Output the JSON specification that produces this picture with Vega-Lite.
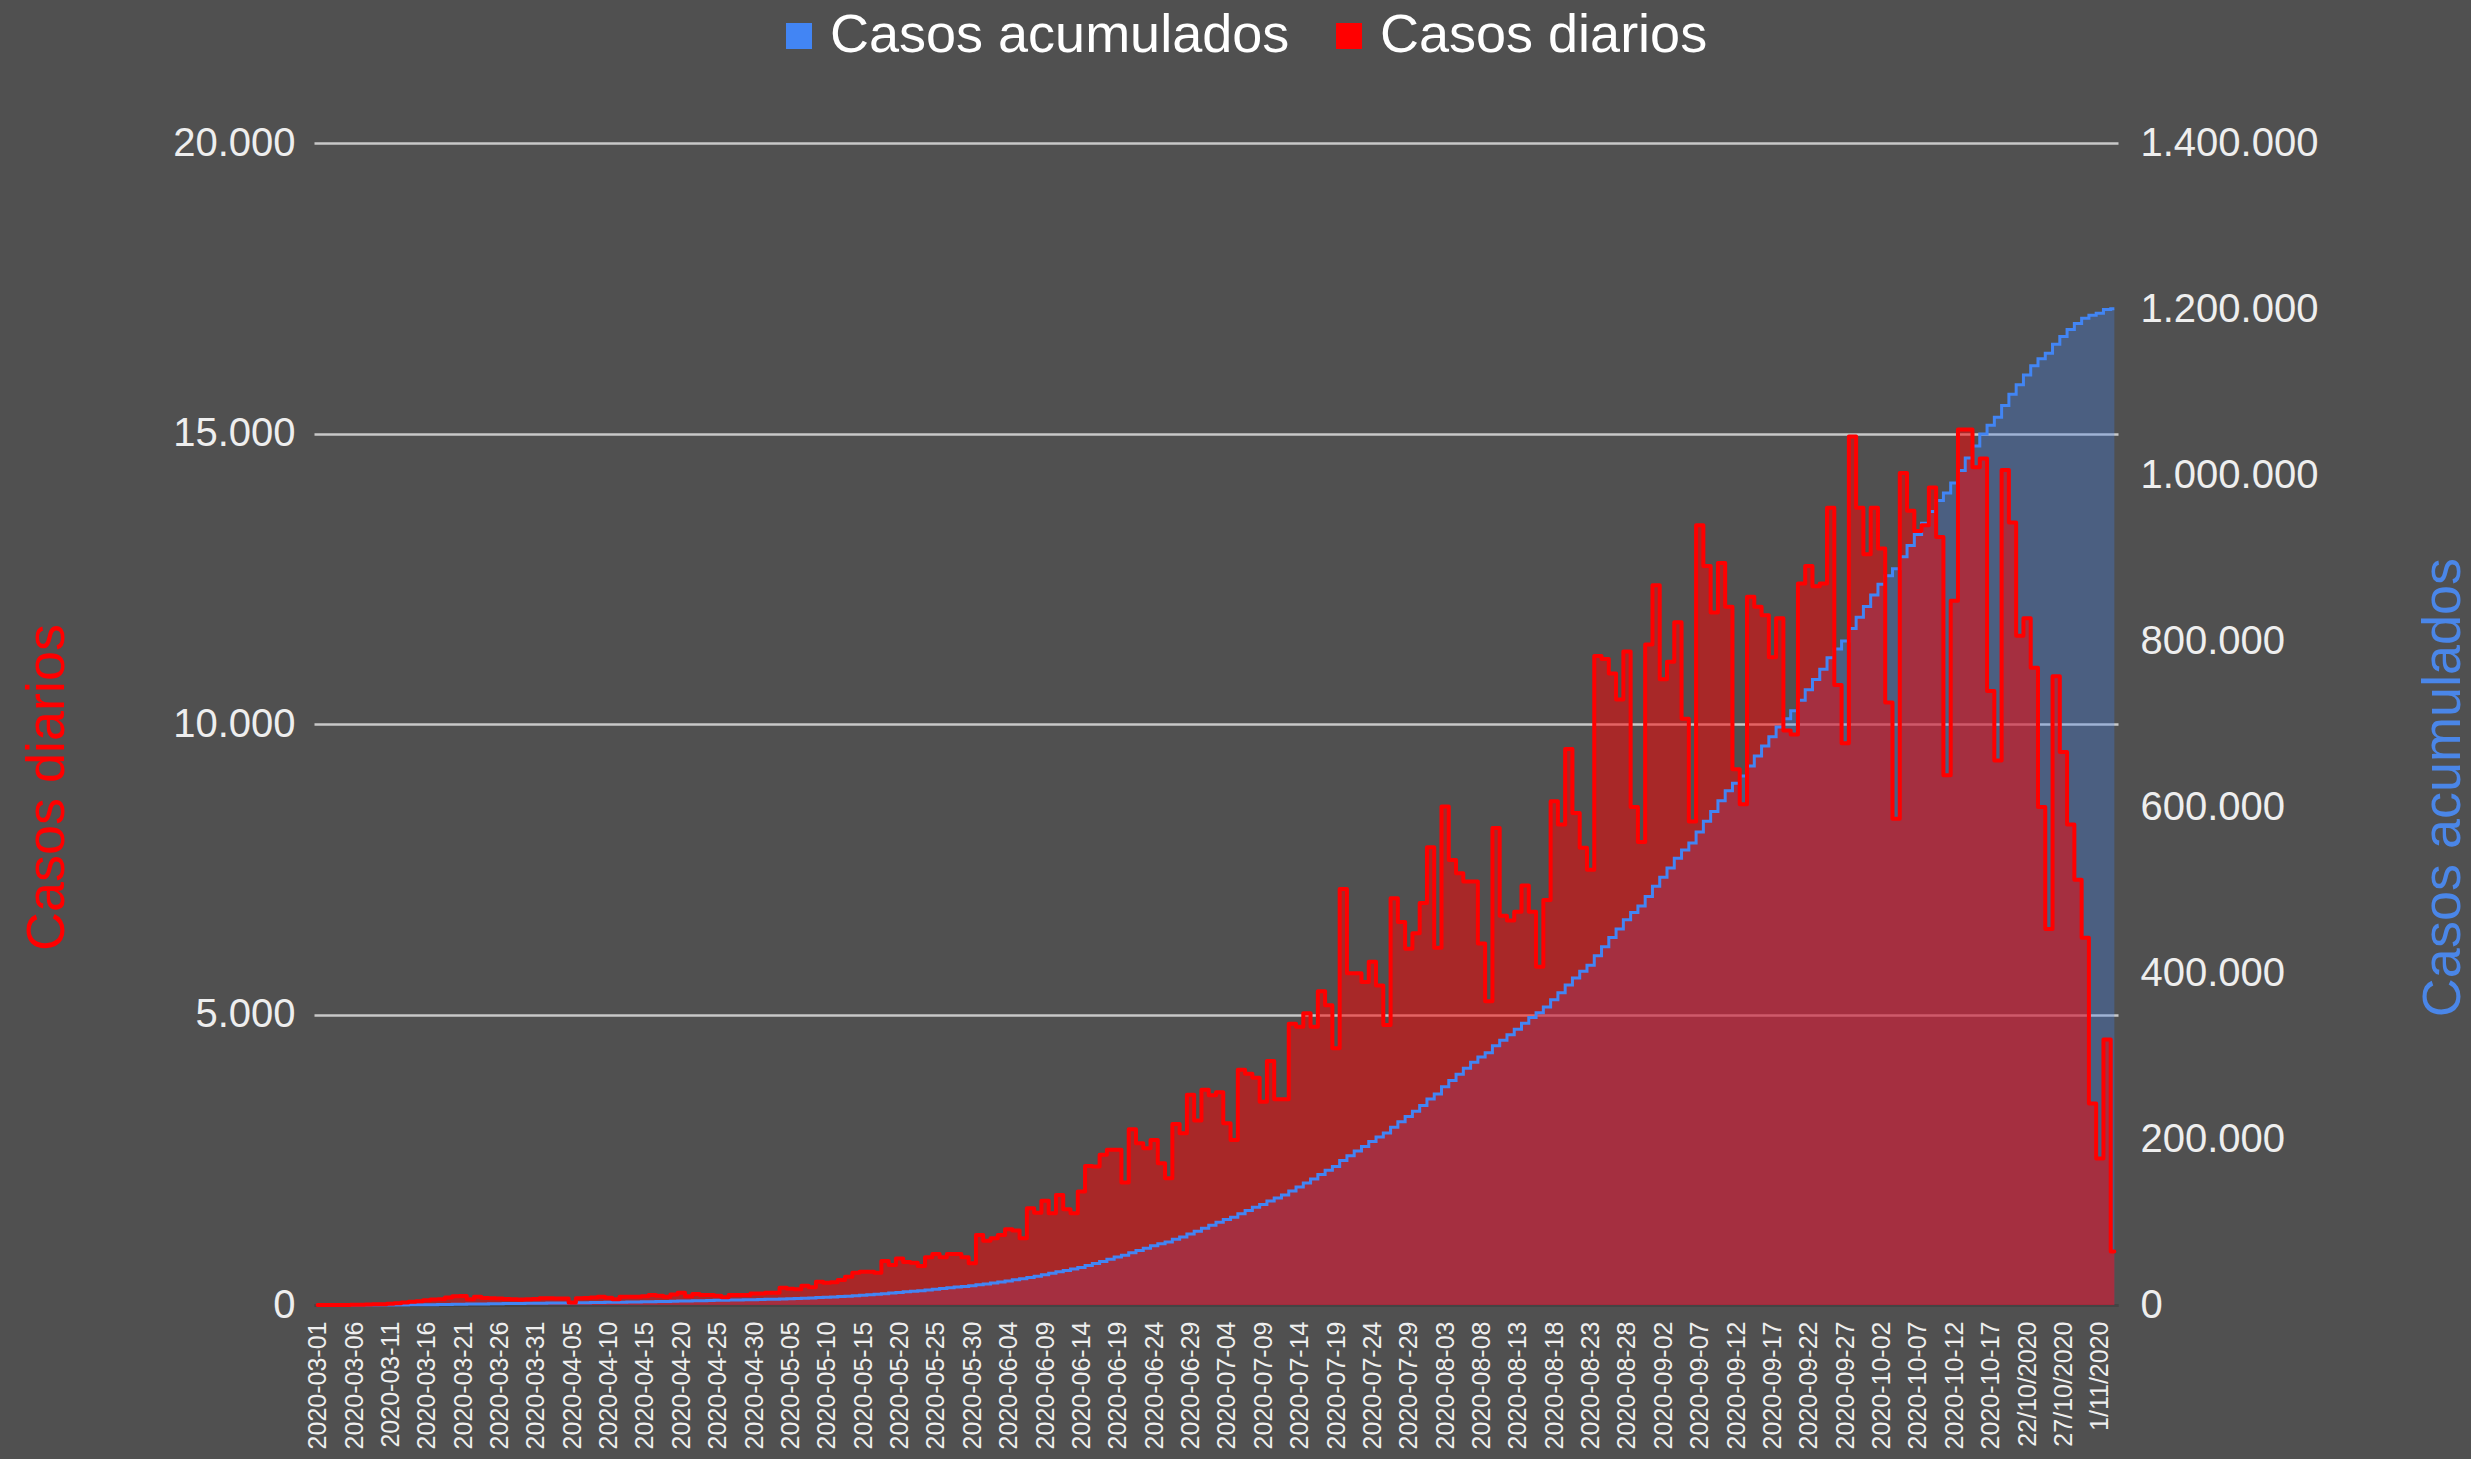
{
"$schema": "https://vega.github.io/schema/vega-lite/v6.json",
"width": 1804, "height": 1162,
"autosize": {"type": "none"},
"padding": {"left": 314, "top": 143, "right": 353, "bottom": 154},
"background": "#505050",
"config": {
  "font": "Liberation Sans",
  "view": {"stroke": null},
  "locale": {"number": {"decimal": ",", "thousands": ".", "grouping": [3], "currency": ["", " €"]}}
},
"data": {"values": [
{"fecha":"2020-03-01","diarios":0,"acumulados":0},
{"fecha":"2020-03-02","diarios":0,"acumulados":0},
{"fecha":"2020-03-03","diarios":1,"acumulados":1},
{"fecha":"2020-03-04","diarios":1,"acumulados":2},
{"fecha":"2020-03-05","diarios":2,"acumulados":4},
{"fecha":"2020-03-06","diarios":5,"acumulados":9},
{"fecha":"2020-03-07","diarios":5,"acumulados":14},
{"fecha":"2020-03-08","diarios":10,"acumulados":24},
{"fecha":"2020-03-09","diarios":12,"acumulados":36},
{"fecha":"2020-03-10","diarios":15,"acumulados":51},
{"fecha":"2020-03-11","diarios":20,"acumulados":71},
{"fecha":"2020-03-12","diarios":30,"acumulados":101},
{"fecha":"2020-03-13","diarios":45,"acumulados":146},
{"fecha":"2020-03-14","diarios":55,"acumulados":201},
{"fecha":"2020-03-15","diarios":65,"acumulados":266},
{"fecha":"2020-03-16","diarios":80,"acumulados":346},
{"fecha":"2020-03-17","diarios":95,"acumulados":441},
{"fecha":"2020-03-18","diarios":100,"acumulados":541},
{"fecha":"2020-03-19","diarios":130,"acumulados":671},
{"fecha":"2020-03-20","diarios":150,"acumulados":821},
{"fecha":"2020-03-21","diarios":155,"acumulados":976},
{"fecha":"2020-03-22","diarios":100,"acumulados":1076},
{"fecha":"2020-03-23","diarios":140,"acumulados":1216},
{"fecha":"2020-03-24","diarios":120,"acumulados":1336},
{"fecha":"2020-03-25","diarios":115,"acumulados":1451},
{"fecha":"2020-03-26","diarios":110,"acumulados":1561},
{"fecha":"2020-03-27","diarios":105,"acumulados":1666},
{"fecha":"2020-03-28","diarios":100,"acumulados":1766},
{"fecha":"2020-03-29","diarios":95,"acumulados":1861},
{"fecha":"2020-03-30","diarios":100,"acumulados":1961},
{"fecha":"2020-03-31","diarios":105,"acumulados":2066},
{"fecha":"2020-04-01","diarios":115,"acumulados":2181},
{"fecha":"2020-04-02","diarios":115,"acumulados":2296},
{"fecha":"2020-04-03","diarios":110,"acumulados":2406},
{"fecha":"2020-04-04","diarios":110,"acumulados":2516},
{"fecha":"2020-04-05","diarios":45,"acumulados":2561},
{"fecha":"2020-04-06","diarios":115,"acumulados":2676},
{"fecha":"2020-04-07","diarios":120,"acumulados":2796},
{"fecha":"2020-04-08","diarios":130,"acumulados":2926},
{"fecha":"2020-04-09","diarios":140,"acumulados":3066},
{"fecha":"2020-04-10","diarios":126,"acumulados":3192},
{"fecha":"2020-04-11","diarios":100,"acumulados":3292},
{"fecha":"2020-04-12","diarios":143,"acumulados":3435},
{"fecha":"2020-04-13","diarios":143,"acumulados":3578},
{"fecha":"2020-04-14","diarios":143,"acumulados":3721},
{"fecha":"2020-04-15","diarios":150,"acumulados":3871},
{"fecha":"2020-04-16","diarios":172,"acumulados":4043},
{"fecha":"2020-04-17","diarios":160,"acumulados":4203},
{"fecha":"2020-04-18","diarios":143,"acumulados":4346},
{"fecha":"2020-04-19","diarios":180,"acumulados":4526},
{"fecha":"2020-04-20","diarios":212,"acumulados":4738},
{"fecha":"2020-04-21","diarios":150,"acumulados":4888},
{"fecha":"2020-04-22","diarios":189,"acumulados":5077},
{"fecha":"2020-04-23","diarios":172,"acumulados":5249},
{"fecha":"2020-04-24","diarios":172,"acumulados":5421},
{"fecha":"2020-04-25","diarios":160,"acumulados":5581},
{"fecha":"2020-04-26","diarios":132,"acumulados":5713},
{"fecha":"2020-04-27","diarios":172,"acumulados":5885},
{"fecha":"2020-04-28","diarios":172,"acumulados":6057},
{"fecha":"2020-04-29","diarios":172,"acumulados":6229},
{"fecha":"2020-04-30","diarios":200,"acumulados":6429},
{"fecha":"2020-05-01","diarios":200,"acumulados":6629},
{"fecha":"2020-05-02","diarios":212,"acumulados":6841},
{"fecha":"2020-05-03","diarios":212,"acumulados":7053},
{"fecha":"2020-05-04","diarios":298,"acumulados":7351},
{"fecha":"2020-05-05","diarios":280,"acumulados":7631},
{"fecha":"2020-05-06","diarios":270,"acumulados":7901},
{"fecha":"2020-05-07","diarios":330,"acumulados":8231},
{"fecha":"2020-05-08","diarios":304,"acumulados":8535},
{"fecha":"2020-05-09","diarios":400,"acumulados":8935},
{"fecha":"2020-05-10","diarios":384,"acumulados":9319},
{"fecha":"2020-05-11","diarios":390,"acumulados":9709},
{"fecha":"2020-05-12","diarios":430,"acumulados":10139},
{"fecha":"2020-05-13","diarios":488,"acumulados":10627},
{"fecha":"2020-05-14","diarios":557,"acumulados":11184},
{"fecha":"2020-05-15","diarios":574,"acumulados":11758},
{"fecha":"2020-05-16","diarios":574,"acumulados":12332},
{"fecha":"2020-05-17","diarios":557,"acumulados":12889},
{"fecha":"2020-05-18","diarios":757,"acumulados":13646},
{"fecha":"2020-05-19","diarios":689,"acumulados":14335},
{"fecha":"2020-05-20","diarios":800,"acumulados":15135},
{"fecha":"2020-05-21","diarios":740,"acumulados":15875},
{"fecha":"2020-05-22","diarios":728,"acumulados":16603},
{"fecha":"2020-05-23","diarios":671,"acumulados":17274},
{"fecha":"2020-05-24","diarios":820,"acumulados":18094},
{"fecha":"2020-05-25","diarios":878,"acumulados":18972},
{"fecha":"2020-05-26","diarios":820,"acumulados":19792},
{"fecha":"2020-05-27","diarios":878,"acumulados":20670},
{"fecha":"2020-05-28","diarios":878,"acumulados":21548},
{"fecha":"2020-05-29","diarios":820,"acumulados":22368},
{"fecha":"2020-05-30","diarios":717,"acumulados":23085},
{"fecha":"2020-05-31","diarios":1205,"acumulados":24290},
{"fecha":"2020-06-01","diarios":1107,"acumulados":25397},
{"fecha":"2020-06-02","diarios":1148,"acumulados":26545},
{"fecha":"2020-06-03","diarios":1205,"acumulados":27750},
{"fecha":"2020-06-04","diarios":1303,"acumulados":29053},
{"fecha":"2020-06-05","diarios":1281,"acumulados":30334},
{"fecha":"2020-06-06","diarios":1148,"acumulados":31482},
{"fecha":"2020-06-07","diarios":1664,"acumulados":33146},
{"fecha":"2020-06-08","diarios":1589,"acumulados":34735},
{"fecha":"2020-06-09","diarios":1796,"acumulados":36531},
{"fecha":"2020-06-10","diarios":1578,"acumulados":38109},
{"fecha":"2020-06-11","diarios":1894,"acumulados":40003},
{"fecha":"2020-06-12","diarios":1647,"acumulados":41650},
{"fecha":"2020-06-13","diarios":1578,"acumulados":43228},
{"fecha":"2020-06-14","diarios":1952,"acumulados":45180},
{"fecha":"2020-06-15","diarios":2394,"acumulados":47574},
{"fecha":"2020-06-16","diarios":2383,"acumulados":49957},
{"fecha":"2020-06-17","diarios":2584,"acumulados":52541},
{"fecha":"2020-06-18","diarios":2670,"acumulados":55211},
{"fecha":"2020-06-19","diarios":2670,"acumulados":57881},
{"fecha":"2020-06-20","diarios":2107,"acumulados":59988},
{"fecha":"2020-06-21","diarios":3025,"acumulados":63013},
{"fecha":"2020-06-22","diarios":2785,"acumulados":65798},
{"fecha":"2020-06-23","diarios":2699,"acumulados":68497},
{"fecha":"2020-06-24","diarios":2842,"acumulados":71339},
{"fecha":"2020-06-25","diarios":2440,"acumulados":73779},
{"fecha":"2020-06-26","diarios":2182,"acumulados":75961},
{"fecha":"2020-06-27","diarios":3117,"acumulados":79078},
{"fecha":"2020-06-28","diarios":2957,"acumulados":82035},
{"fecha":"2020-06-29","diarios":3617,"acumulados":85652},
{"fecha":"2020-06-30","diarios":3174,"acumulados":88826},
{"fecha":"2020-07-01","diarios":3703,"acumulados":92529},
{"fecha":"2020-07-02","diarios":3610,"acumulados":96139},
{"fecha":"2020-07-03","diarios":3660,"acumulados":99799},
{"fecha":"2020-07-04","diarios":3130,"acumulados":102929},
{"fecha":"2020-07-05","diarios":2840,"acumulados":105769},
{"fecha":"2020-07-06","diarios":4050,"acumulados":109819},
{"fecha":"2020-07-07","diarios":3980,"acumulados":113799},
{"fecha":"2020-07-08","diarios":3910,"acumulados":117709},
{"fecha":"2020-07-09","diarios":3500,"acumulados":121209},
{"fecha":"2020-07-10","diarios":4200,"acumulados":125409},
{"fecha":"2020-07-11","diarios":3540,"acumulados":128949},
{"fecha":"2020-07-12","diarios":3540,"acumulados":132489},
{"fecha":"2020-07-13","diarios":4840,"acumulados":137329},
{"fecha":"2020-07-14","diarios":4790,"acumulados":142119},
{"fecha":"2020-07-15","diarios":5020,"acumulados":147139},
{"fecha":"2020-07-16","diarios":4790,"acumulados":151929},
{"fecha":"2020-07-17","diarios":5400,"acumulados":157329},
{"fecha":"2020-07-18","diarios":5160,"acumulados":162489},
{"fecha":"2020-07-19","diarios":4420,"acumulados":166909},
{"fecha":"2020-07-20","diarios":7160,"acumulados":174069},
{"fecha":"2020-07-21","diarios":5710,"acumulados":179779},
{"fecha":"2020-07-22","diarios":5710,"acumulados":185489},
{"fecha":"2020-07-23","diarios":5560,"acumulados":191049},
{"fecha":"2020-07-24","diarios":5910,"acumulados":196959},
{"fecha":"2020-07-25","diarios":5500,"acumulados":202459},
{"fecha":"2020-07-26","diarios":4820,"acumulados":207279},
{"fecha":"2020-07-27","diarios":7000,"acumulados":214279},
{"fecha":"2020-07-28","diarios":6590,"acumulados":220869},
{"fecha":"2020-07-29","diarios":6130,"acumulados":226999},
{"fecha":"2020-07-30","diarios":6400,"acumulados":233399},
{"fecha":"2020-07-31","diarios":6920,"acumulados":240319},
{"fecha":"2020-08-01","diarios":7880,"acumulados":248199},
{"fecha":"2020-08-02","diarios":6150,"acumulados":254349},
{"fecha":"2020-08-03","diarios":8580,"acumulados":262929},
{"fecha":"2020-08-04","diarios":7660,"acumulados":270589},
{"fecha":"2020-08-05","diarios":7430,"acumulados":278019},
{"fecha":"2020-08-06","diarios":7290,"acumulados":285309},
{"fecha":"2020-08-07","diarios":7290,"acumulados":292599},
{"fecha":"2020-08-08","diarios":6220,"acumulados":298819},
{"fecha":"2020-08-09","diarios":5230,"acumulados":304049},
{"fecha":"2020-08-10","diarios":8210,"acumulados":312259},
{"fecha":"2020-08-11","diarios":6700,"acumulados":318959},
{"fecha":"2020-08-12","diarios":6620,"acumulados":325579},
{"fecha":"2020-08-13","diarios":6770,"acumulados":332349},
{"fecha":"2020-08-14","diarios":7220,"acumulados":339569},
{"fecha":"2020-08-15","diarios":6770,"acumulados":346339},
{"fecha":"2020-08-16","diarios":5820,"acumulados":352159},
{"fecha":"2020-08-17","diarios":6970,"acumulados":359129},
{"fecha":"2020-08-18","diarios":8670,"acumulados":367799},
{"fecha":"2020-08-19","diarios":8270,"acumulados":376069},
{"fecha":"2020-08-20","diarios":9570,"acumulados":385639},
{"fecha":"2020-08-21","diarios":8470,"acumulados":394109},
{"fecha":"2020-08-22","diarios":7870,"acumulados":401979},
{"fecha":"2020-08-23","diarios":7490,"acumulados":409469},
{"fecha":"2020-08-24","diarios":11170,"acumulados":420639},
{"fecha":"2020-08-25","diarios":11120,"acumulados":431759},
{"fecha":"2020-08-26","diarios":10870,"acumulados":442629},
{"fecha":"2020-08-27","diarios":10420,"acumulados":453049},
{"fecha":"2020-08-28","diarios":11250,"acumulados":464299},
{"fecha":"2020-08-29","diarios":8570,"acumulados":472869},
{"fecha":"2020-08-30","diarios":7970,"acumulados":480839},
{"fecha":"2020-08-31","diarios":11370,"acumulados":492209},
{"fecha":"2020-09-01","diarios":12390,"acumulados":504599},
{"fecha":"2020-09-02","diarios":10770,"acumulados":515369},
{"fecha":"2020-09-03","diarios":11070,"acumulados":526439},
{"fecha":"2020-09-04","diarios":11750,"acumulados":538189},
{"fecha":"2020-09-05","diarios":10090,"acumulados":548279},
{"fecha":"2020-09-06","diarios":8320,"acumulados":556599},
{"fecha":"2020-09-07","diarios":13420,"acumulados":570019},
{"fecha":"2020-09-08","diarios":12720,"acumulados":582739},
{"fecha":"2020-09-09","diarios":11920,"acumulados":594659},
{"fecha":"2020-09-10","diarios":12770,"acumulados":607429},
{"fecha":"2020-09-11","diarios":12020,"acumulados":619449},
{"fecha":"2020-09-12","diarios":9220,"acumulados":628669},
{"fecha":"2020-09-13","diarios":8620,"acumulados":637289},
{"fecha":"2020-09-14","diarios":12190,"acumulados":649479},
{"fecha":"2020-09-15","diarios":12020,"acumulados":661499},
{"fecha":"2020-09-16","diarios":11870,"acumulados":673369},
{"fecha":"2020-09-17","diarios":11150,"acumulados":684519},
{"fecha":"2020-09-18","diarios":11820,"acumulados":696339},
{"fecha":"2020-09-19","diarios":9890,"acumulados":706229},
{"fecha":"2020-09-20","diarios":9820,"acumulados":716049},
{"fecha":"2020-09-21","diarios":12420,"acumulados":728469},
{"fecha":"2020-09-22","diarios":12720,"acumulados":741189},
{"fecha":"2020-09-23","diarios":12370,"acumulados":753559},
{"fecha":"2020-09-24","diarios":12420,"acumulados":765979},
{"fecha":"2020-09-25","diarios":13720,"acumulados":779699},
{"fecha":"2020-09-26","diarios":10670,"acumulados":790369},
{"fecha":"2020-09-27","diarios":9670,"acumulados":800039},
{"fecha":"2020-09-28","diarios":14950,"acumulados":814989},
{"fecha":"2020-09-29","diarios":13720,"acumulados":828709},
{"fecha":"2020-09-30","diarios":12920,"acumulados":841629},
{"fecha":"2020-10-01","diarios":13720,"acumulados":855349},
{"fecha":"2020-10-02","diarios":13020,"acumulados":868369},
{"fecha":"2020-10-03","diarios":10370,"acumulados":878739},
{"fecha":"2020-10-04","diarios":8370,"acumulados":887109},
{"fecha":"2020-10-05","diarios":14320,"acumulados":901429},
{"fecha":"2020-10-06","diarios":13670,"acumulados":915099},
{"fecha":"2020-10-07","diarios":13320,"acumulados":928419},
{"fecha":"2020-10-08","diarios":13420,"acumulados":941839},
{"fecha":"2020-10-09","diarios":14070,"acumulados":955909},
{"fecha":"2020-10-10","diarios":13220,"acumulados":969129},
{"fecha":"2020-10-11","diarios":9120,"acumulados":978249},
{"fecha":"2020-10-12","diarios":12120,"acumulados":990369},
{"fecha":"2020-10-13","diarios":15070,"acumulados":1005439},
{"fecha":"2020-10-14","diarios":15070,"acumulados":1020509},
{"fecha":"2020-10-15","diarios":14420,"acumulados":1034929},
{"fecha":"2020-10-16","diarios":14570,"acumulados":1049499},
{"fecha":"2020-10-17","diarios":10570,"acumulados":1060069},
{"fecha":"18/10/2020","diarios":9370,"acumulados":1069439},
{"fecha":"19/10/2020","diarios":14370,"acumulados":1083809},
{"fecha":"20/10/2020","diarios":13470,"acumulados":1097279},
{"fecha":"21/10/2020","diarios":11520,"acumulados":1108799},
{"fecha":"22/10/2020","diarios":11820,"acumulados":1120619},
{"fecha":"23/10/2020","diarios":10970,"acumulados":1131589},
{"fecha":"24/10/2020","diarios":8570,"acumulados":1140159},
{"fecha":"25/10/2020","diarios":6470,"acumulados":1146629},
{"fecha":"26/10/2020","diarios":10820,"acumulados":1157449},
{"fecha":"27/10/2020","diarios":9520,"acumulados":1166969},
{"fecha":"28/10/2020","diarios":8270,"acumulados":1175239},
{"fecha":"29/10/2020","diarios":7320,"acumulados":1182559},
{"fecha":"30/10/2020","diarios":6320,"acumulados":1188879},
{"fecha":"31/10/2020","diarios":3470,"acumulados":1192349},
{"fecha":"1/11/2020","diarios":2520,"acumulados":1194869},
{"fecha":"2/11/2020","diarios":4570,"acumulados":1199439},
{"fecha":"3/11/2020","diarios":920,"acumulados":1200359}
]},
"encoding": {
  "x": {"field": "fecha", "type": "ordinal", "sort": null,
    "scale": {"type": "point", "padding": 0.5},
    "axis": {"values": ["2020-03-01","2020-03-06","2020-03-11","2020-03-16","2020-03-21","2020-03-26","2020-03-31","2020-04-05","2020-04-10","2020-04-15","2020-04-20","2020-04-25","2020-04-30","2020-05-05","2020-05-10","2020-05-15","2020-05-20","2020-05-25","2020-05-30","2020-06-04","2020-06-09","2020-06-14","2020-06-19","2020-06-24","2020-06-29","2020-07-04","2020-07-09","2020-07-14","2020-07-19","2020-07-24","2020-07-29","2020-08-03","2020-08-08","2020-08-13","2020-08-18","2020-08-23","2020-08-28","2020-09-02","2020-09-07","2020-09-12","2020-09-17","2020-09-22","2020-09-27","2020-10-02","2020-10-07","2020-10-12","2020-10-17","22/10/2020","27/10/2020","1/11/2020"],
      "labelAngle": -90, "labelFontSize": 25, "labelColor": "#eeeeee", "labelPadding": 16,
      "labelOverlap": false, "labelLimit": 400, "ticks": false, "grid": false,
      "domain": true, "domainColor": "#444444", "domainWidth": 3, "title": null}}
},
"layer": [
  {"mark": {"type": "area", "interpolate": "step", "fillOpacity": 0.3},
   "encoding": {
     "y": {"field": "acumulados", "type": "quantitative", "stack": null,
       "scale": {"domain": [0, 1400000], "nice": false},
       "axis": {"orient": "right", "values": [0,200000,400000,600000,800000,1000000,1200000,1400000], "format": ",d",
         "labelFontSize": 40, "labelColor": "#eeeeee", "labelPadding": 22, "ticks": false, "domain": false, "grid": false,
         "title": "Casos acumulados", "titleColor": "#4a86e8", "titleFontSize": 54, "titleFontWeight": "normal",
         "titleAngle": -90, "titleX": 325, "titleY": 644, "titleAlign": "center", "titleBaseline": "middle"}},
     "color": {"datum": "Casos acumulados", "type": "nominal",
       "scale": {"domain": ["Casos acumulados", "Casos diarios"], "range": ["#4285f4", "#ff0000"]},
       "legend": {"orient": "none", "legendX": 458, "legendY": -134, "direction": "horizontal", "title": null,
         "symbolType": "square", "symbolSize": 676, "symbolOpacity": 1, "symbolStrokeWidth": 0,
         "labelFontSize": 54, "labelColor": "#ffffff", "labelOffset": 4, "columnPadding": 32, "labelLimit": 1000}}
   }},
  {"mark": {"type": "area", "interpolate": "step", "fillOpacity": 0.5},
   "encoding": {
     "y": {"field": "diarios", "type": "quantitative", "stack": null,
       "scale": {"domain": [0, 20000], "nice": false},
       "axis": {"orient": "left", "values": [0,5000,10000,15000,20000], "format": ",d",
         "labelFontSize": 40, "labelColor": "#eeeeee", "labelPadding": 19, "ticks": false, "domain": false,
         "grid": true, "gridWidth": 2.5,
         "gridColor": {"condition": {"test": "datum.value === 0", "value": "#444444"}, "value": "#c8c8c8"},
         "title": "Casos diarios", "titleColor": "#ff0000", "titleFontSize": 54, "titleFontWeight": "normal",
         "titleAngle": -90, "titleX": -267, "titleY": 644, "titleAlign": "center", "titleBaseline": "middle"}},
     "color": {"datum": "Casos diarios", "type": "nominal"}
   }},
  {"mark": {"type": "line", "interpolate": "step", "color": "#4285f4", "strokeWidth": 3},
   "encoding": {
     "y": {"field": "acumulados", "type": "quantitative", "scale": {"domain": [0, 1400000], "nice": false}, "axis": null}
   }},
  {"mark": {"type": "line", "interpolate": "step", "color": "#ff0000", "strokeWidth": 4, "strokeJoin": "round", "strokeCap": "round"},
   "encoding": {
     "y": {"field": "diarios", "type": "quantitative", "scale": {"domain": [0, 20000], "nice": false}, "axis": null}
   }}
],
"resolve": {"scale": {"y": "independent"}}
}
